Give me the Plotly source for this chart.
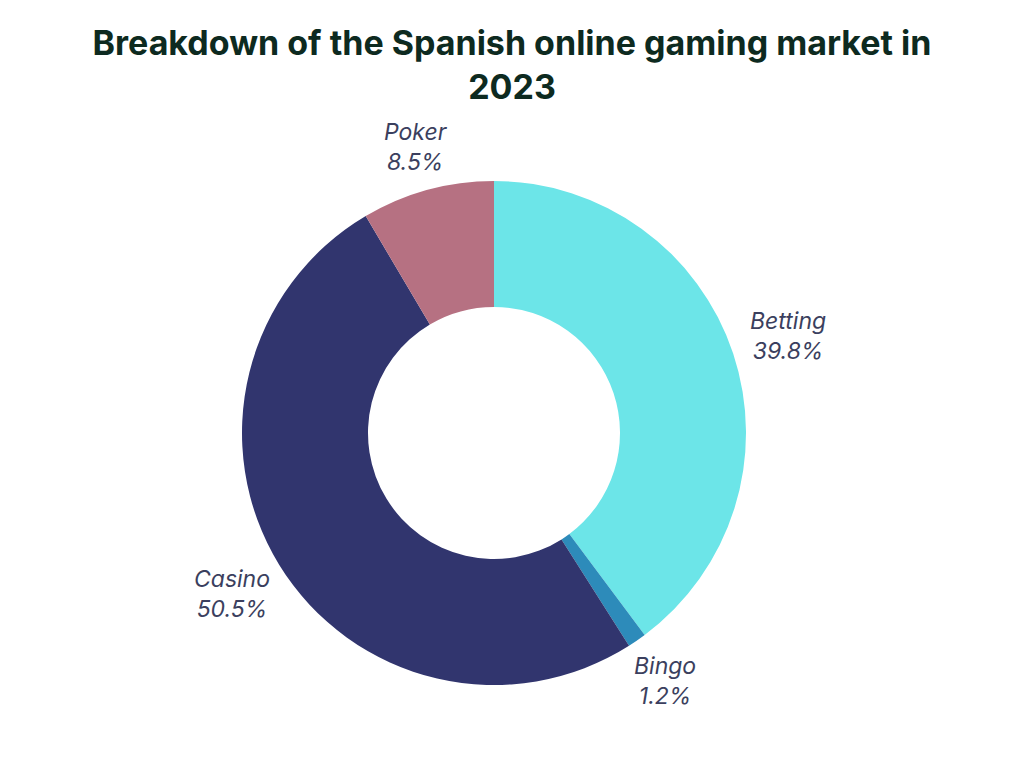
import math
import plotly.graph_objects as go

# Spanish online gaming market 2023, share of revenue (%)
segments = ["Betting", "Bingo", "Casino", "Poker"]
shares = [39.8, 1.2, 50.5, 8.5]
colors = ["#6ce5e8", "#2d8bba", "#31356e", "#b67182"]

W, H = 1024, 768
# the page body adds an 8px offset, so aim 8px up/left of the target spot
cx, cy, R = 494 - 8, 433 - 8, 252
gap = 15            # space between ring and label box
char_w, box_h = 11.5, 56

fig = go.Figure(go.Pie(
    labels=segments,
    values=shares,
    hole=0.5,
    sort=False,
    direction="clockwise",
    rotation=0,
    marker=dict(colors=colors, line=dict(width=0)),
    textinfo="none",
    hoverinfo="label+percent",
    showlegend=False,
    domain=dict(x=[(cx - R) / W, (cx + R) / W], y=[(H - cy - R) / H, (H - cy + R) / H]),
))

# outside labels at the middle angle of each slice, pushed out by their box size
total = sum(shares)
cum = 0
for name, v in zip(segments, shares):
    ang = 2 * math.pi * (cum + v / 2) / total
    cum += v
    s, c = math.sin(ang), math.cos(ang)
    half_w = char_w * max(len(name), len(f"{v}%")) / 2
    half_h = box_h / 2
    ext = min(half_w / max(abs(s), 1e-6), half_h / max(abs(c), 1e-6))
    dist = R + gap + ext
    px = cx + dist * s
    py = cy - dist * c
    fig.add_annotation(
        x=px / W, y=1 - py / H, xref="paper", yref="paper",
        text=f"{name}<br>{v}%", showarrow=False,
        xanchor="center", yanchor="middle",
        font=dict(family="Inter", size=23, color="#3b3f5e", style="italic"),
    )

fig.update_layout(
    width=W, height=H,
    margin=dict(l=0, r=0, t=0, b=0),
    paper_bgcolor="white",
    plot_bgcolor="white",
    title=dict(
        text="<b>Breakdown of the Spanish online gaming market in<br>2023</b>",
        x=(512 - 8) / W, xanchor="center", y=1 - (55 - 8) / H, yanchor="middle",
        font=dict(family="Inter", size=34, color="#0d2a20"),
    ),
)

fig.write_html("out.html")
